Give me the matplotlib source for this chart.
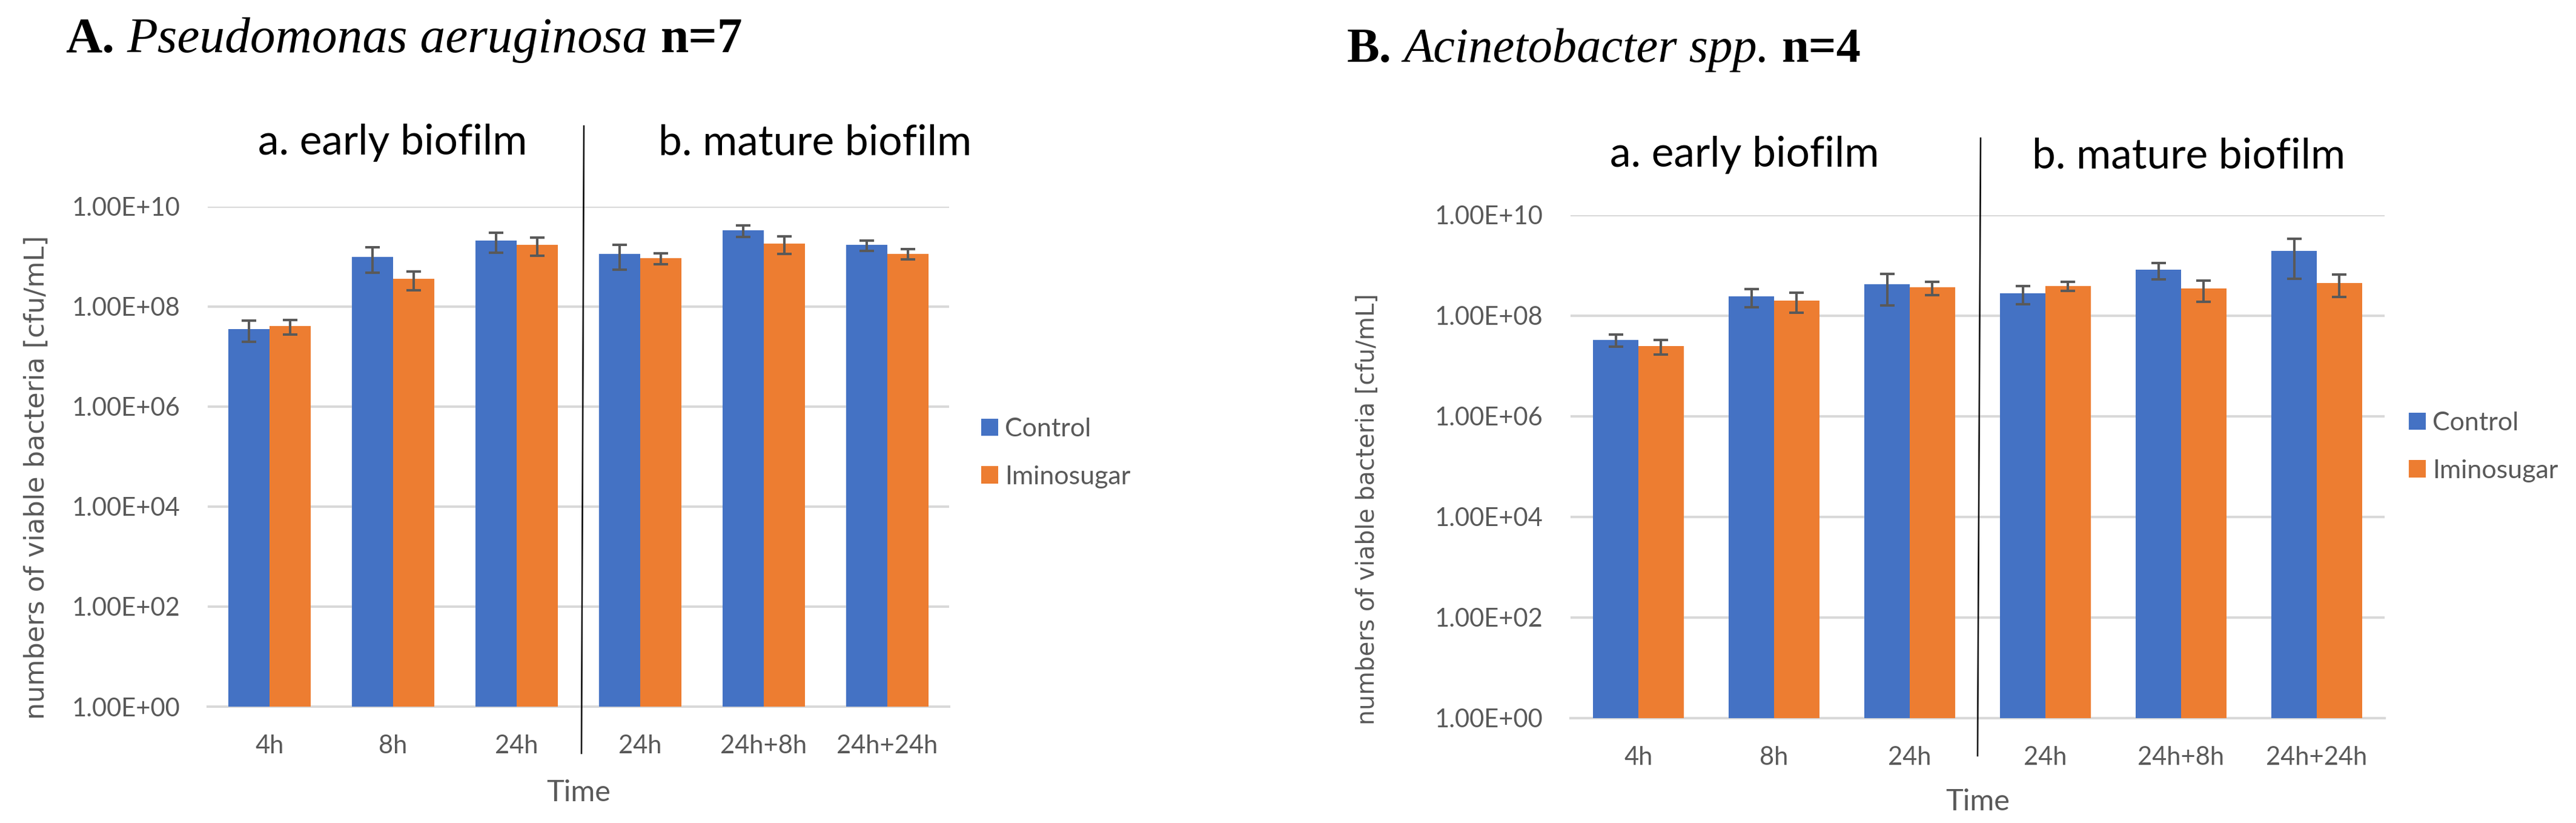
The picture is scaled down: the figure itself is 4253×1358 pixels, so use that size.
import numpy as np
import matplotlib
matplotlib.use("Agg")
import matplotlib.pyplot as plt
from matplotlib.lines import Line2D
from matplotlib.ticker import FixedLocator, FuncFormatter, NullLocator

plt.rcParams['font.family'] = ['Lato', 'DejaVu Sans']

# data (cfu/mL, mean and SD)
categories = ['4h', '8h', '24h', '24h', '24h+8h', '24h+24h']
series = ['Control', 'Iminosugar']

pa_control = [3.6e7, 1.0e9, 2.1e9, 1.14e9, 3.37e9, 1.71e9]
pa_control_sd = [1.6e7, 5.2e8, 9.0e8, 5.9e8, 8.6e8, 4.0e8]
pa_imino = [4.1e7, 3.6e8, 1.71e9, 9.3e8, 1.84e9, 1.14e9]
pa_imino_sd = [1.35e7, 1.5e8, 6.7e8, 2.2e8, 7.2e8, 2.65e8]

ac_control = [3.3e7, 2.45e8, 4.2e8, 2.8e8, 8.3e8, 1.95e9]
ac_control_sd = [9e6, 9.6e7, 2.6e8, 1.1e8, 3.0e8, 1.4e9]
ac_imino = [2.5e7, 2.0e8, 3.65e8, 3.9e8, 3.45e8, 4.45e8]
ac_imino_sd = [8.2e6, 8.6e7, 1.1e8, 8e7, 1.57e8, 2.1e8]

yticks = [1e0, 1e2, 1e4, 1e6, 1e8, 1e10]

BLUE = '#4472C4'
ORANGE = '#ED7D31'
GREY = '#595959'
GRID = '#D9D9D9'

W, H = 4253, 1358
fig = plt.figure(figsize=(W / 100, H / 100), dpi=100)


def fx(px):
    return px / W


def fy(px):
    return 1 - px / H


def panel(rect, control, control_sd, imino, imino_sd, legend_xy):
    ax = fig.add_axes(rect)
    x = np.arange(len(categories))
    w = 1 / 3
    ekw = dict(ecolor=GREY, elinewidth=2.9, capsize=8.6, capthick=2.9)
    ax.bar(x - w / 2, control, w, yerr=control_sd, color=BLUE,
           error_kw=ekw, label=series[0], zorder=3)
    ax.bar(x + w / 2, imino, w, yerr=imino_sd, color=ORANGE,
           error_kw=ekw, label=series[1], zorder=3)
    ax.set_yscale('log')
    ax.set_ylim(1, 1e10)
    ax.set_xlim(-0.5, len(categories) - 0.5)
    ax.yaxis.set_major_locator(FixedLocator(yticks))
    ax.yaxis.set_minor_locator(NullLocator())
    ax.yaxis.set_major_formatter(FuncFormatter(lambda v, p: f"{v:.2E}"))
    ax.set_xticks(x)
    ax.set_xticklabels(categories)
    ax.yaxis.grid(True, color=GRID, linewidth=2.9)
    ax.set_axisbelow(True)
    for s in ['top', 'left', 'right']:
        ax.spines[s].set_visible(False)
    ax.spines['bottom'].set_color(GRID)
    ax.spines['bottom'].set_linewidth(2.9)
    ax.tick_params(length=0, pad=33, labelsize=30, labelcolor=GREY)
    ax.legend(loc='upper left', bbox_to_anchor=(fx(legend_xy[0]), fy(legend_xy[1])),
              bbox_transform=fig.transFigure, frameon=False, fontsize=31,
              labelcolor=GREY, handlelength=0.65, handleheight=0.65,
              handletextpad=0.25, labelspacing=0.95, borderpad=0, borderaxespad=0)
    return ax


def title(x0, baseline, parts, size):
    renderer = fig.canvas.get_renderer()
    x = fx(x0)
    for txt, style, weight in parts:
        t = fig.text(x, fy(baseline), txt, fontsize=size, style=style, weight=weight,
                     family='Liberation Serif', va='baseline', ha='left')
        bb = t.get_window_extent(renderer)
        x += (bb.width + 0.25 * size * 100 / 72) / W


ax1 = panel([fx(343), fy(1166), fx(1567) - fx(343), fy(341) - fy(1166)],
            pa_control, pa_control_sd, pa_imino, pa_imino_sd, (1620, 689))
ax2 = panel([fx(2593), fy(1185), fx(3937) - fx(2593), fy(355) - fy(1185)],
            ac_control, ac_control_sd, ac_imino, ac_imino_sd, (3977, 679))

title(108, 86, [('A.', 'normal', 'bold'), ('Pseudomonas aeruginosa', 'italic', 'normal'),
                ('n=7', 'normal', 'bold')], 60)
title(2224, 102, [('B.', 'normal', 'bold'), ('Acinetobacter spp.', 'italic', 'normal'),
                  ('n=4', 'normal', 'bold')], 58)

# section labels and dividers
fig.text(fx(648), fy(255), 'a. early biofilm', fontsize=50, ha='center', va='baseline')
fig.text(fx(1346), fy(255), 'b. mature biofilm', fontsize=50, ha='center', va='baseline')
fig.text(fx(2880), fy(275), 'a. early biofilm', fontsize=50, ha='center', va='baseline')
fig.text(fx(3614), fy(277), 'b. mature biofilm', fontsize=50, ha='center', va='baseline')
fig.add_artist(Line2D([fx(964), fx(960)], [fy(208), fy(1243)], color='black', lw=1.8))
fig.add_artist(Line2D([fx(3270), fx(3265)], [fy(228), fy(1247)], color='black', lw=1.8))

# axis titles
ylab = 'numbers of viable bacteria [cfu/mL]'
fig.text(fx(60), fy(788), ylab, rotation=90, fontsize=32, color=GREY,
         family='DejaVu Sans', ha='center', va='center')
fig.text(fx(2258), fy(840), ylab, rotation=90, fontsize=28.5, color=GREY,
         family='DejaVu Sans', ha='center', va='center')
fig.text(fx(955), fy(1308), 'Time', fontsize=35, color=GREY, ha='center', va='center')
fig.text(fx(3265), fy(1323), 'Time', fontsize=35, color=GREY, ha='center', va='center')

fig.savefig('out.png', dpi=100)
